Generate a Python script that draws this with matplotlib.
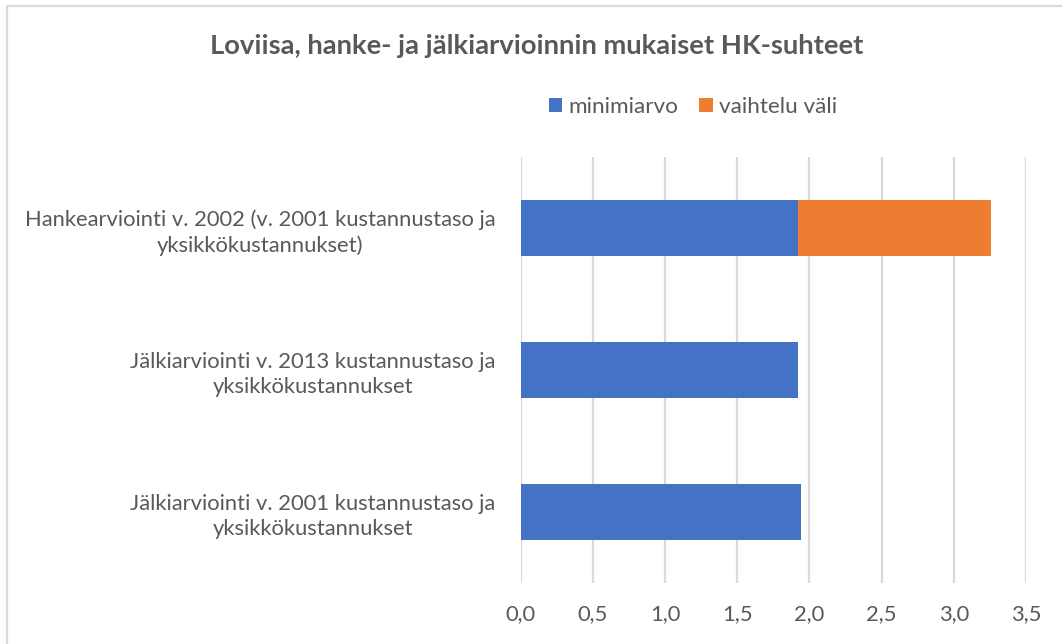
import matplotlib.pyplot as plt
from matplotlib.patches import Rectangle
from matplotlib.ticker import FuncFormatter

categories = [
    "Jälkiarviointi v. 2001 kustannustaso ja\nyksikkökustannukset",
    "Jälkiarviointi v. 2013 kustannustaso ja\nyksikkökustannukset",
    "Hankearviointi v. 2002 (v. 2001 kustannustaso ja\nyksikkökustannukset)",
]
minimiarvo = [1.94, 1.92, 1.92]
vaihteluvali = [0.0, 0.0, 1.34]
xticks = [0.0, 0.5, 1.0, 1.5, 2.0, 2.5, 3.0, 3.5]

blue = '#4472C4'
orange = '#ED7D31'
txt = '#595959'
grid_col = '#D9D9D9'

plt.rcParams['font.family'] = ['Lato', 'DejaVu Sans']

fig = plt.figure(figsize=(10.62, 6.44), dpi=100)
ax = fig.add_axes([520.5 / 1062, 1 - 583 / 644, (1026 - 520.5) / 1062, (583 - 157) / 644])

y = list(range(len(categories)))
ax.barh(y, minimiarvo, height=0.4, color=blue, label='minimiarvo', zorder=3)
ax.barh(y, vaihteluvali, left=minimiarvo, height=0.4, color=orange, label='vaihtelu väli', zorder=3)

ax.set_xlim(0, 3.5)
ax.set_ylim(-0.5, 2.5)
ax.set_xticks(xticks)
ax.xaxis.set_major_formatter(FuncFormatter(lambda v, p: f"{v:.1f}".replace('.', ',')))
ax.set_yticks(y)
ax.set_yticklabels(categories, multialignment='center', linespacing=1.3)
ax.grid(axis='x', color=grid_col, linewidth=1.6, zorder=0)
for s in ax.spines.values():
    s.set_visible(False)
ax.tick_params(axis='both', length=0, colors=txt, labelsize=15.8)
ax.tick_params(axis='x', pad=15)
ax.tick_params(axis='y', pad=18)

fig.text(537 / 1062, 1 - 46 / 644, "Loviisa, hanke- ja jälkiarvioinnin mukaiset HK-suhteet",
         ha='center', va='center', fontsize=19.7, fontweight='bold', color=txt)

fig.legend(loc='center', bbox_to_anchor=(693 / 1062, 1 - 107 / 644), ncol=2, frameon=False,
           fontsize=16.2, labelcolor=txt, handlelength=0.6, handleheight=0.6,
           handletextpad=0.3, columnspacing=0.9)

fig.patches.append(Rectangle((7 / 1062, -0.1), 1.2, 1 - 6 / 644 + 0.1, transform=fig.transFigure,
                             fill=False, edgecolor=grid_col, linewidth=1.6))

fig.savefig('out.png', dpi=100)
